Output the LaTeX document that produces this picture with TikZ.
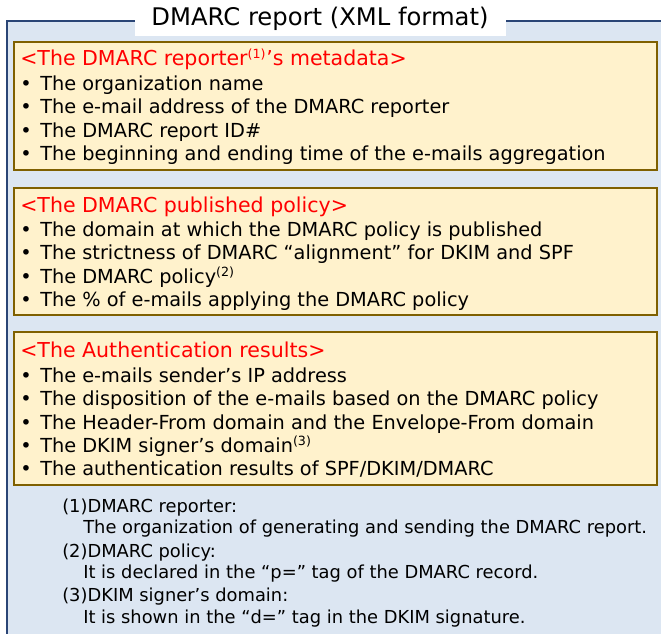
\documentclass[tikz,border=0pt]{standalone}
\usepackage{fontspec}
\setmainfont{DejaVu Sans}
\definecolor{frameblue}{HTML}{2A4576}
\definecolor{panelblue}{HTML}{DCE6F2}
\definecolor{boxbrown}{HTML}{7F6000}
\definecolor{boxfill}{HTML}{FFF2CC}
\definecolor{headred}{HTML}{FF0000}
\tikzset{
  infobox/.style={draw=boxbrown, fill=boxfill, line width=1.6pt},
  headline/.style={anchor=base west, inner sep=0pt, text=headred, font=\fontsize{15.4}{17}\selectfont},
  itemline/.style={anchor=base west, inner sep=0pt, font=\fontsize{14.5}{16}\selectfont},
  bulletmark/.style={anchor=base west, inner sep=0pt, font=\fontsize{14.5}{16}\selectfont},
  noteline/.style={anchor=base west, inner sep=0pt, font=\fontsize{13.4}{15}\selectfont},
}
\newcommand{\fnmark}[1]{\textsuperscript{\fontsize{9.5}{10}\selectfont(#1)}}
\begin{document}
\begin{tikzpicture}[x=0.75pt, y=-0.75pt]
\useasboundingbox (0,0) rectangle (661,633);
% outer panel, running past the right and bottom edges
\begin{scope}
\clip (0,0) rectangle (661,633);
\draw[frameblue, fill=panelblue, line width=1.6pt] (7,21) rectangle (700,680);
\end{scope}
% title tab
\fill[white] (135,0) rectangle (506,36);
\node[inner sep=0pt, font=\fontsize{18.2}{20}\selectfont] (title) at (320,19) {DMARC report (XML format)};

% section 1
\draw[infobox] (14,42) rectangle (657,170);
\node[headline] (h1) at (20,65) {<The DMARC reporter\fnmark{1}’s metadata>};
\foreach \y/\t [count=\i] in {
  90/The organization name,
  113/The e-mail address of the DMARC reporter,
  137/The DMARC report ID\#,
  160/The beginning and ending time of the e-mails aggregation} {
  \node[bulletmark] (b1\i) at (20,\y) {•};
  \node[itemline] (t1\i) at (40,\y) {\t};
}

% section 2
\draw[infobox] (14,188) rectangle (657,315);
\node[headline] (h2) at (20,212) {<The DMARC published policy>};
\node[bulletmark] (b21) at (20,236) {•};
\node[itemline] (t21) at (40,236) {The domain at which the DMARC policy is published};
\node[bulletmark] (b22) at (20,259) {•};
\node[itemline] (t22) at (40,259) {The strictness of DMARC “alignment” for DKIM and SPF};
\node[bulletmark] (b23) at (20,283) {•};
\node[itemline] (t23) at (40,283) {The DMARC policy\fnmark{2}};
\node[bulletmark] (b24) at (20,306) {•};
\node[itemline] (t24) at (40,306) {The \% of e-mails applying the DMARC policy};

% section 3
\draw[infobox] (14,332) rectangle (657,485);
\node[headline] (h3) at (20,357) {<The Authentication results>};
\node[bulletmark] (b31) at (20,382) {•};
\node[itemline] (t31) at (40,382) {The e-mails sender’s IP address};
\node[bulletmark] (b32) at (20,405) {•};
\node[itemline] (t32) at (40,405) {The disposition of the e-mails based on the DMARC policy};
\node[bulletmark] (b33) at (20,429) {•};
\node[itemline] (t33) at (40,429) {The Header-From domain and the Envelope-From domain};
\node[bulletmark] (b34) at (20,452) {•};
\node[itemline] (t34) at (40,452) {The DKIM signer’s domain\fnmark{3}};
\node[bulletmark] (b35) at (20,475) {•};
\node[itemline] (t35) at (40,475) {The authentication results of SPF/DKIM/DMARC};

% footnotes
\node[noteline] (n1) at (62,512) {(1)DMARC reporter:};
\node[noteline] (n1b) at (83,533) {The organization of generating and sending the DMARC report.};
\node[noteline] (n2) at (62,557) {(2)DMARC policy:};
\node[noteline] (n2b) at (83,578) {It is declared in the “p=” tag of the DMARC record.};
\node[noteline] (n3) at (62,601) {(3)DKIM signer’s domain:};
\node[noteline] (n3b) at (83,623) {It is shown in the “d=” tag in the DKIM signature.};
\end{tikzpicture}
\end{document}
